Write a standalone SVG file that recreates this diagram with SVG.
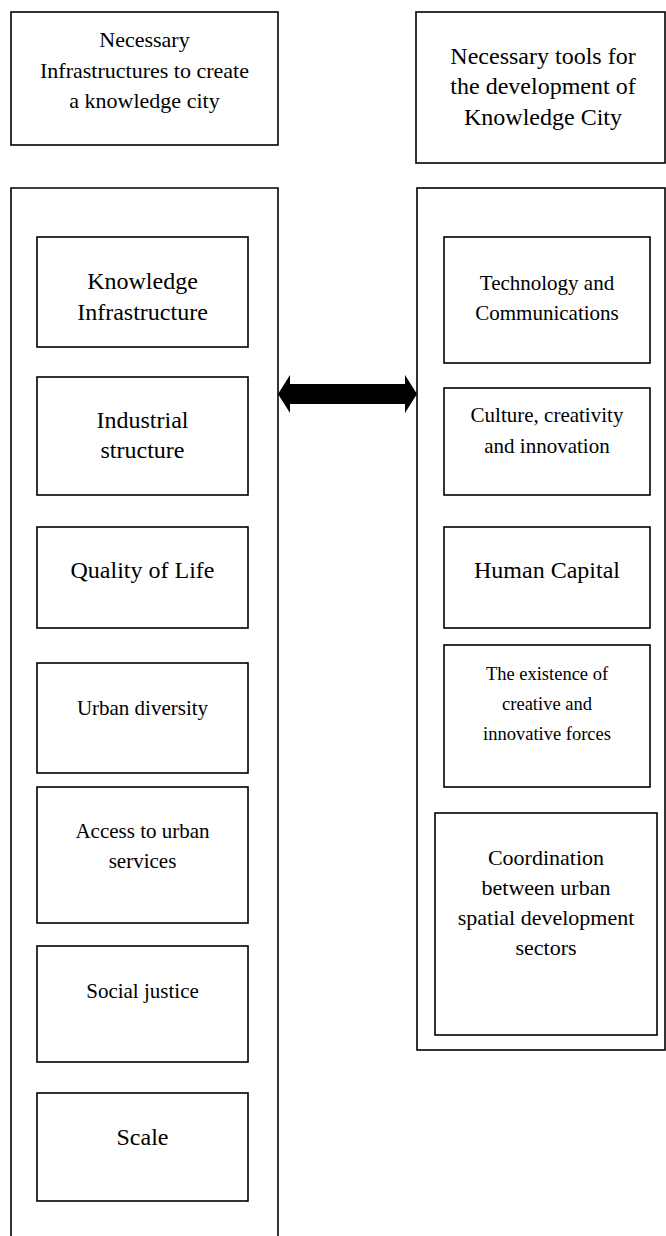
<svg xmlns="http://www.w3.org/2000/svg" width="666" height="1236" viewBox="0 0 666 1236">
<style>
.b{fill:#fff;stroke:#000;stroke-width:1.6}
.c{fill:none;stroke:#000;stroke-width:1.6}
text{fill:#000;text-anchor:middle}
.f24{font-size:24px}.f22{font-size:22px}.f21{font-size:21px}.f18{font-size:18.5px}
</style>
<rect width="666" height="1236" fill="#fff"/>
<g font-family="'Liberation Serif', Tinos, 'Times New Roman', 'Nimbus Roman', 'DejaVu Serif', serif">
<g id="header-left"><rect class="b" x="11" y="12" width="267" height="133"/>
<text class="f22"><tspan x="144.5" y="47">Necessary</tspan><tspan x="144.5" y="78">Infrastructures to create</tspan><tspan x="144.5" y="108">a knowledge city</tspan></text></g>
<g id="header-right"><rect class="b" x="416" y="12" width="249" height="151"/>
<text class="f24"><tspan x="543" y="64">Necessary tools for</tspan><tspan x="543" y="94">the development of</tspan><tspan x="543" y="125">Knowledge City</tspan></text></g>
<g id="container-left"><path class="c" d="M11,1240 V188 H278 V1240"/></g>
<g id="container-right"><rect class="b" x="417" y="188" width="248" height="862"/></g>
<g id="knowledge-infrastructure"><rect class="b" x="37" y="237" width="211" height="110"/>
<text class="f24"><tspan x="142.5" y="289">Knowledge</tspan><tspan x="142.5" y="320">Infrastructure</tspan></text></g>
<g id="industrial-structure"><rect class="b" x="37" y="377" width="211" height="118"/>
<text class="f24"><tspan x="142.5" y="428">Industrial</tspan><tspan x="142.5" y="458">structure</tspan></text></g>
<g id="quality-of-life"><rect class="b" x="37" y="527" width="211" height="101"/>
<text class="f24" x="142.5" y="578">Quality of Life</text></g>
<g id="urban-diversity"><rect class="b" x="37" y="663" width="211" height="110"/>
<text class="f21" x="142.5" y="715">Urban diversity</text></g>
<g id="access-urban-services"><rect class="b" x="37" y="787" width="211" height="136"/>
<text class="f21"><tspan x="142.5" y="838">Access to urban</tspan><tspan x="142.5" y="868">services</tspan></text></g>
<g id="social-justice"><rect class="b" x="37" y="946" width="211" height="116"/>
<text class="f21" x="142.5" y="998">Social justice</text></g>
<g id="scale"><rect class="b" x="37" y="1093" width="211" height="108"/>
<text class="f24" x="142.5" y="1145">Scale</text></g>
<g id="technology-communications"><rect class="b" x="444" y="237" width="206" height="126"/>
<text class="f21"><tspan x="547" y="290">Technology and</tspan><tspan x="547" y="320">Communications</tspan></text></g>
<g id="culture-creativity"><rect class="b" x="444" y="388" width="206" height="107"/>
<text class="f21"><tspan x="547" y="422">Culture, creativity</tspan><tspan x="547" y="453">and innovation</tspan></text></g>
<g id="human-capital"><rect class="b" x="444" y="527" width="206" height="101"/>
<text class="f24" x="547" y="578">Human Capital</text></g>
<g id="creative-forces"><rect class="b" x="444" y="645" width="206" height="142"/>
<text class="f18"><tspan x="547" y="680">The existence of</tspan><tspan x="547" y="710">creative and</tspan><tspan x="547" y="740">innovative forces</tspan></text></g>
<g id="coordination"><rect class="b" x="435" y="813" width="222" height="222"/>
<text class="f22"><tspan x="546" y="865">Coordination</tspan><tspan x="546" y="895">between urban</tspan><tspan x="546" y="925">spatial development</tspan><tspan x="546" y="955">sectors</tspan></text></g>
</g>
<g id="connectors"><polygon fill="#000" points="278,394 290,375 290,384 405,384 405,375 417,394 405,413 405,404 290,404 290,413"/></g>
</svg>
